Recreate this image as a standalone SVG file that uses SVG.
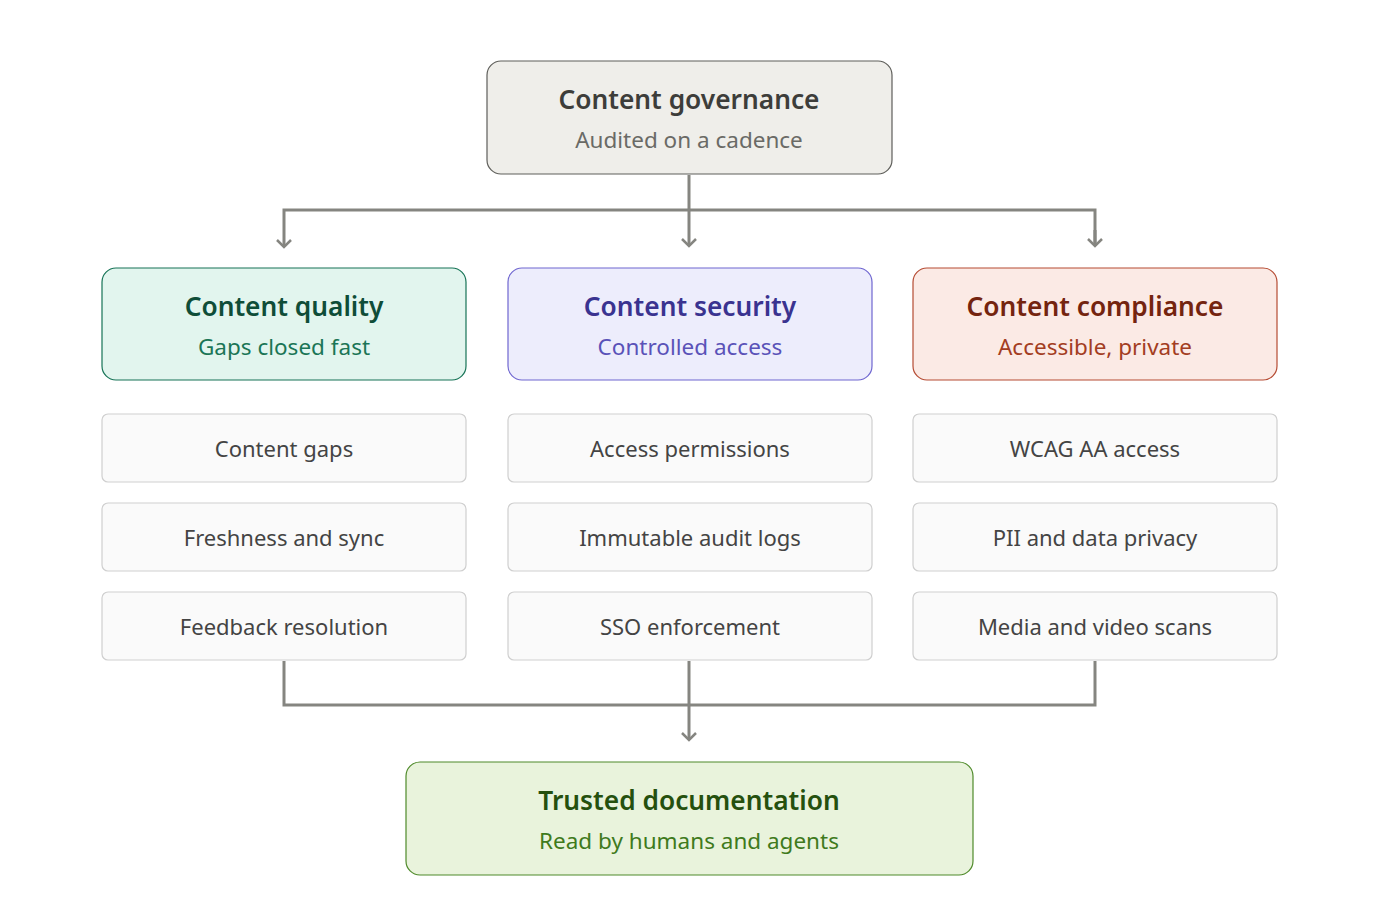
<svg xmlns="http://www.w3.org/2000/svg" width="1379" height="916" viewBox="0 0 1379 916">
<style>
text{font-family:"Noto Sans","Open Sans",sans-serif;text-anchor:middle}
.t{font-size:26.3px;font-weight:600}
.s{font-size:22.5px}
.i{font-size:22px;fill:#444}
.item{fill:#fafafa;stroke:#cfcfcf;stroke-width:1.2}
.c{fill:none;stroke:#858580;stroke-width:3}
</style>
<defs><marker id="a" markerWidth="20" markerHeight="20" refX="10" refY="10" markerUnits="userSpaceOnUse" orient="auto"><path d="M3,3 L10,10 L3,17" fill="none" stroke="#858580" stroke-width="2.5"/></marker></defs>
<g id="connectors">
<path class="c" d="M689,175 V210 M284,246 V210 H1095 V246"/>
<path class="c" d="M284,246 V247" marker-end="url(#a)"/>
<path class="c" d="M689,210 V246" marker-end="url(#a)"/>
<path class="c" d="M1095,230 V246" marker-end="url(#a)"/>
<path class="c" d="M284,661 V705 H1095 V661 M689,661 V705"/>
<path class="c" d="M689,705 V740" marker-end="url(#a)"/>
</g>
<g id="governance"><rect x="487" y="61" width="405" height="113" rx="14" fill="#efeeea" stroke="#5e5e5a" stroke-width="1.2"/><text class="t" x="689" y="109" fill="#3d3d3a">Content governance</text><text class="s" x="689" y="148" fill="#6a6a66">Audited on a cadence</text></g>
<g id="quality"><rect x="102" y="268" width="364" height="112" rx="14" fill="#e2f5ee" stroke="#167356" stroke-width="1.2"/><text class="t" x="284" y="316" fill="#0f4d38">Content quality</text><text class="s" x="284" y="355" fill="#1b7556">Gaps closed fast</text></g>
<g id="security"><rect x="508" y="268" width="364" height="112" rx="14" fill="#ededfc" stroke="#6f66d0" stroke-width="1.2"/><text class="t" x="690" y="316" fill="#3a3390">Content security</text><text class="s" x="690" y="355" fill="#5a52b8">Controlled access</text></g>
<g id="compliance"><rect x="913" y="268" width="364" height="112" rx="14" fill="#fbeae5" stroke="#b54b33" stroke-width="1.2"/><text class="t" x="1095" y="316" fill="#74240f">Content compliance</text><text class="s" x="1095" y="355" fill="#a33d22">Accessible, private</text></g>
<g id="q1"><rect class="item" x="102" y="414" width="364" height="68" rx="6"/><text class="i" x="284" y="457">Content gaps</text></g>
<g id="q2"><rect class="item" x="102" y="503" width="364" height="68" rx="6"/><text class="i" x="284" y="546">Freshness and sync</text></g>
<g id="q3"><rect class="item" x="102" y="592" width="364" height="68" rx="6"/><text class="i" x="284" y="635">Feedback resolution</text></g>
<g id="s1"><rect class="item" x="508" y="414" width="364" height="68" rx="6"/><text class="i" x="690" y="457">Access permissions</text></g>
<g id="s2"><rect class="item" x="508" y="503" width="364" height="68" rx="6"/><text class="i" x="690" y="546">Immutable audit logs</text></g>
<g id="s3"><rect class="item" x="508" y="592" width="364" height="68" rx="6"/><text class="i" x="690" y="635">SSO enforcement</text></g>
<g id="c1"><rect class="item" x="913" y="414" width="364" height="68" rx="6"/><text class="i" x="1095" y="457">WCAG AA access</text></g>
<g id="c2"><rect class="item" x="913" y="503" width="364" height="68" rx="6"/><text class="i" x="1095" y="546">PII and data privacy</text></g>
<g id="c3"><rect class="item" x="913" y="592" width="364" height="68" rx="6"/><text class="i" x="1095" y="635">Media and video scans</text></g>
<g id="trusted"><rect x="406" y="762" width="567" height="113" rx="14" fill="#e9f3dc" stroke="#4f8a2a" stroke-width="1.2"/><text class="t" x="689" y="810" fill="#25500e">Trusted documentation</text><text class="s" x="689" y="849" fill="#3f7a1c">Read by humans and agents</text></g>
</svg>
